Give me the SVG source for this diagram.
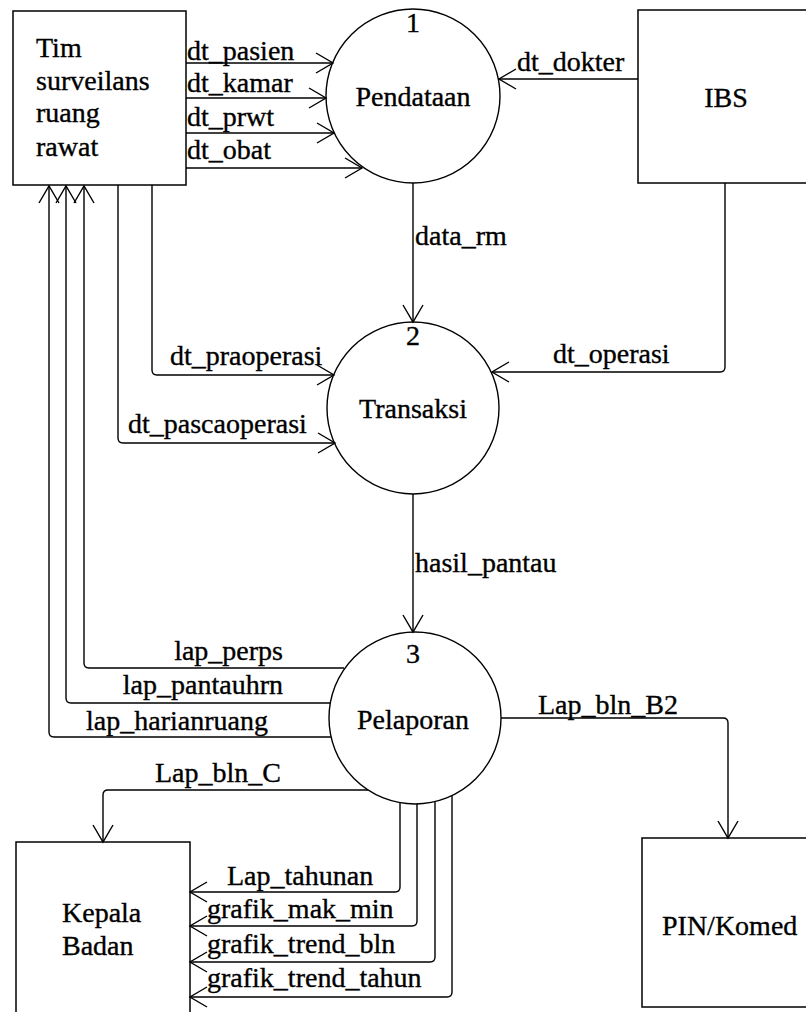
<svg xmlns="http://www.w3.org/2000/svg" width="806" height="1012" viewBox="0 0 806 1012">
  <style>
    .box { fill: #fff; stroke: #000; stroke-width: 1.5; }
    .proc { fill: #fff; stroke: #000; stroke-width: 1.4; }
    .flow { fill: none; stroke: #000; stroke-width: 1.4; marker-end: url(#arrow); }
    .t { font-family: 'Liberation Serif', serif; font-size: 28px; fill: #000; stroke: #000; stroke-width: 0.35; }
    .mid { text-anchor: middle; }
  </style>
  <defs>
    <marker id="arrow" markerUnits="userSpaceOnUse" markerWidth="24" markerHeight="24" viewBox="-20 -12 22 24" refX="0" refY="0" orient="auto">
      <path d="M-17,-10 L0,0 L-17,10" fill="none" stroke="#000" stroke-width="1.4"/>
    </marker>
  </defs>

  <rect width="806" height="1012" fill="#fff"/>

  <!-- external entities -->
  <g id="tim" class="t">
    <rect class="box" x="13" y="11" width="173" height="174"/>
    <text x="36" y="57">Tim</text>
    <text x="36" y="90">surveilans</text>
    <text x="36" y="122">ruang</text>
    <text x="36" y="156">rawat</text>
  </g>
  <g id="ibs" class="t">
    <rect class="box" x="638" y="10" width="190" height="173"/>
    <text x="726" y="107" class="mid">IBS</text>
  </g>
  <g id="kepala" class="t">
    <rect class="box" x="16" y="842" width="174" height="200"/>
    <text x="62" y="922">Kepala</text>
    <text x="62" y="955">Badan</text>
  </g>
  <g id="pin" class="t">
    <rect class="box" x="642" y="838" width="190" height="169"/>
    <text x="662" y="935">PIN/Komed</text>
  </g>

  <!-- processes -->
  <g id="p1" class="t">
    <circle class="proc" cx="413" cy="96" r="87"/>
    <text x="413" y="32" class="mid">1</text>
    <text x="413" y="106" class="mid">Pendataan</text>
  </g>
  <g id="p2" class="t">
    <circle class="proc" cx="413" cy="408" r="86"/>
    <text x="413" y="345" class="mid">2</text>
    <text x="413" y="418" class="mid">Transaksi</text>
  </g>
  <g id="p3" class="t">
    <circle class="proc" cx="415" cy="718" r="86"/>
    <text x="413" y="663" class="mid">3</text>
    <text x="413" y="729" class="mid">Pelaporan</text>
  </g>

  <!-- data flows -->
  <g id="connectors">
    <path class="flow" d="M186,63 H333"/>
    <path class="flow" d="M186,98 H326"/>
    <path class="flow" d="M186,133 H334"/>
    <path class="flow" d="M186,168 H362"/>
    <path class="flow" d="M638,79 H499"/>
    <path class="flow" d="M413,183 V322"/>
    <path class="flow" d="M152,185 V370 Q152,375 157,375 H334"/>
    <path class="flow" d="M118,185 V438 Q118,443 123,443 H335"/>
    <path class="flow" d="M725,183 V367 Q725,372 720,372 H492"/>
    <path class="flow" d="M413,494 V632"/>
    <path class="flow" d="M344,668 H89 Q84,668 84,663 V186"/>
    <path class="flow" d="M330,703 H71 Q66,703 66,698 V186"/>
    <path class="flow" d="M331,737 H54 Q49,737 49,732 V186"/>
    <path class="flow" d="M501,718 H723 Q728,718 728,723 V838"/>
    <path class="flow" d="M368,790 H108 Q103,790 103,795 V842"/>
    <path class="flow" d="M400,803 V887 Q400,892 395,892 H190"/>
    <path class="flow" d="M417,804 V921 Q417,926 412,926 H190"/>
    <path class="flow" d="M435,802 V957 Q435,962 430,962 H190"/>
    <path class="flow" d="M452,795 V992 Q452,997 447,997 H190"/>
  </g>

  <!-- flow labels -->
  <g id="labels" class="t">
    <text x="187" y="60">dt_pasien</text>
    <text x="187" y="92">dt_kamar</text>
    <text x="187" y="126">dt_prwt</text>
    <text x="187" y="159">dt_obat</text>
    <text x="517" y="71">dt_dokter</text>
    <text x="415" y="245">data_rm</text>
    <text x="170" y="365">dt_praoperasi</text>
    <text x="128" y="433">dt_pascaoperasi</text>
    <text x="553" y="363">dt_operasi</text>
    <text x="415" y="572">hasil_pantau</text>
    <text x="283" y="660" text-anchor="end">lap_perps</text>
    <text x="283" y="694" text-anchor="end">lap_pantauhrn</text>
    <text x="86" y="730">lap_harianruang</text>
    <text x="538" y="714">Lap_bln_B2</text>
    <text x="155" y="782">Lap_bln_C</text>
    <text x="227" y="885">Lap_tahunan</text>
    <text x="207" y="918">grafik_mak_min</text>
    <text x="207" y="953">grafik_trend_bln</text>
    <text x="207" y="987">grafik_trend_tahun</text>
  </g>
</svg>
